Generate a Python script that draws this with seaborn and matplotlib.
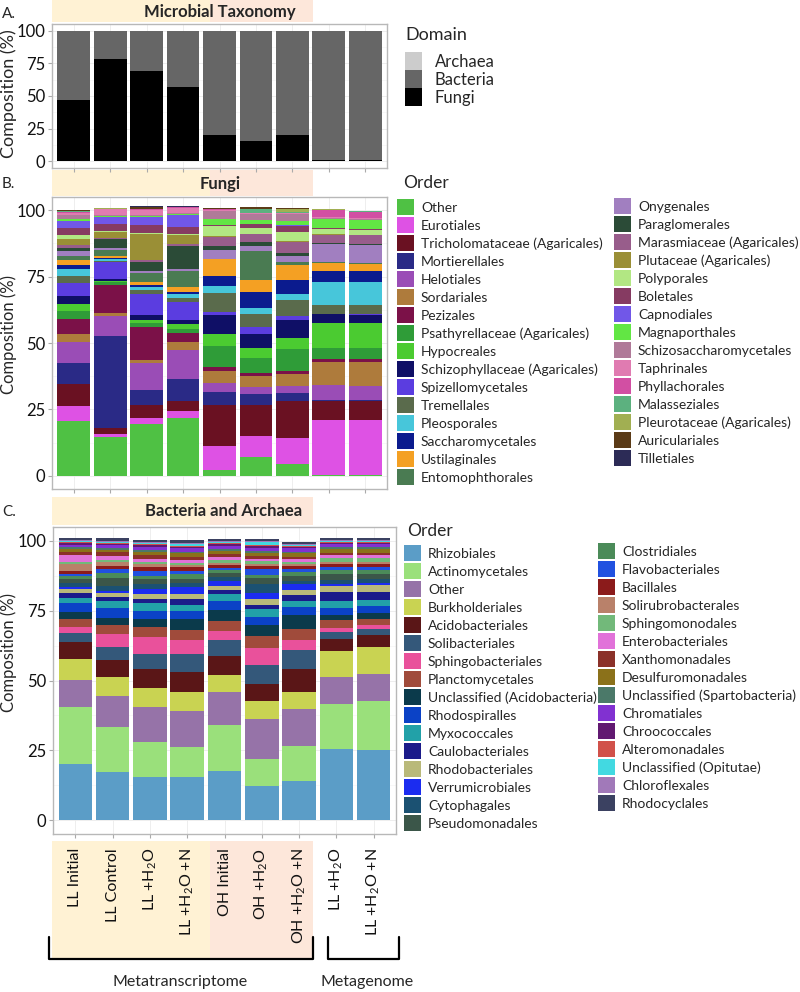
import pandas as pd
import matplotlib.pyplot as plt
import seaborn as sns
from matplotlib.patches import Patch, Rectangle

sns.set_theme(style='white')
plt.rcParams['font.family'] = ['Lato', 'DejaVu Sans']
plt.rcParams['mathtext.fontset'] = 'custom'
plt.rcParams['mathtext.rm'] = 'Lato'
plt.rcParams['mathtext.it'] = 'Lato:italic'
plt.rcParams['mathtext.bf'] = 'Lato:bold'

# sample labels (x axis of all three panels)
samples = ['LL Initial', 'LL Control', r'LL +H$_2$O', r'LL +H$_2$O +N',
           'OH Initial', r'OH +H$_2$O', r'OH +H$_2$O +N',
           r'LL +H$_2$O', r'LL +H$_2$O +N']

# ---- panel A: domain composition (%)
domains = ['Archaea', 'Bacteria', 'Fungi']
domain_colors = ['#CCCCCC', '#666666', '#000000']
archaea_pct = [0.1, 0.1, 0.1, 0.1, 0.2, 0.2, 0.2, 0.3, 0.3]
bacteria_pct = [52.9, 21.9, 30.9, 42.9, 79.8, 84.3, 79.3, 98.7, 98.7]
fungi_pct = [47.0, 78.0, 69.0, 57.0, 20.0, 15.5, 20.5, 1.0, 1.0]

# ---- panel B: fungal orders (bottom of stack first)
fungi_orders = ['Other', 'Eurotiales', 'Tricholomataceae (Agaricales)', 'Mortierellales',
                'Helotiales', 'Sordariales', 'Pezizales', 'Psathyrellaceae (Agaricales)',
                'Hypocreales', 'Schizophyllaceae (Agaricales)', 'Spizellomycetales',
                'Tremellales', 'Pleosporales', 'Saccharomycetales', 'Ustilaginales',
                'Entomophthorales', 'Onygenales', 'Paraglomerales',
                'Marasmiaceae (Agaricales)', 'Plutaceae (Agaricales)', 'Polyporales',
                'Boletales', 'Capnodiales', 'Magnaporthales', 'Schizosaccharomycetales',
                'Taphrinales', 'Phyllachorales', 'Malasseziales',
                'Pleurotaceae (Agaricales)', 'Auriculariales', 'Tilletiales']
fungi_colors = ['#4FC144', '#DE52E4', '#6A1122', '#2A2A86', '#9A4DB6', '#AE7B3C',
                '#7B1148', '#2F9C38', '#4BCB31', '#0F0F66', '#5B3DE0', '#5A6B4C',
                '#47C6DA', '#0B1B8E', '#F4A023', '#4A7B52', '#A17FC0', '#2B4B37',
                '#985D8B', '#9A8F36', '#B2E783', '#863B62', '#7157E8', '#62E644',
                '#B07A99', '#E07BB1', '#D24FA3', '#5CB17F', '#A1AF52', '#5B3B17',
                '#2C2B56']
fungi_ll_initial = [20.7, 5.7, 8.3, 7.7, 8.0, 3.1, 5.7, 2.9, 2.6, 2.9, 5.1, 2.4, 2.7, 1.4, 1.9, 1.7,
                    1.9, 1.0, 1.4, 2.2, 1.4, 2.8, 2.4, 0.9, 1.3, 1.0, 0.3, 0.2, 0.3, 0.2, 0.1]
fungi_ll_control = [14.6, 1.3, 2.2, 34.5, 7.4, 1.3, 10.5, 1.0, 0.5, 0.8, 6.5, 0.3, 0.9, 0.3, 0.6, 2.3,
                    0.6, 3.5, 0.5, 2.3, 0.3, 2.6, 2.8, 0.3, 0.5, 1.9, 0.2, 0.1, 0.2, 0.1, 0.1]
fungi_ll_h2o = [19.5, 2.2, 4.9, 5.6, 10.1, 1.4, 12.5, 1.3, 1.3, 1.7, 8.0, 1.3, 1.3, 0.9, 1.0, 3.2,
                0.9, 3.4, 0.8, 9.6, 0.5, 2.9, 3.2, 0.4, 0.4, 1.9, 0.1, 0.1, 0.1, 0.9, 0.1]
fungi_ll_h2o_n = [21.8, 2.6, 3.7, 8.4, 10.7, 3.3, 3.1, 1.7, 1.7, 1.5, 7.0, 1.3, 1.7, 0.9, 1.7, 6.0,
                  0.9, 8.4, 0.9, 3.2, 0.5, 2.7, 4.5, 0.4, 0.5, 1.9, 0.1, 0.1, 0.1, 0.1, 0.1]
fungi_oh_initial = [2.3, 8.9, 15.6, 4.7, 3.6, 4.5, 1.3, 8.0, 4.5, 7.0, 1.3, 7.0, 2.6, 4.1, 6.1, 0.3,
                    3.2, 1.5, 3.6, 0.3, 3.6, 0.3, 0.3, 2.0, 3.1, 0.5, 0.1, 0.1, 0.1, 0.4, 0.1]
fungi_oh_h2o = [7.2, 7.9, 11.5, 4.1, 2.9, 3.8, 1.3, 5.7, 3.6, 5.4, 2.6, 4.9, 2.2, 6.0, 4.5, 11.2,
                1.9, 1.3, 2.9, 0.3, 2.2, 1.3, 0.3, 1.3, 2.3, 0.3, 0.1, 1.3, 0.1, 0.9, 0.1]
fungi_oh_h2o_n = [4.6, 9.5, 14.0, 2.9, 2.8, 4.5, 1.3, 8.0, 4.1, 7.0, 1.3, 6.1, 2.2, 5.5, 5.7, 0.9,
                  2.3, 1.3, 4.2, 0.3, 3.4, 2.2, 0.3, 1.7, 2.6, 0.3, 0.1, 0.1, 1.4, 0.1, 0.1]
fungi_mg_h2o = [0.1, 21.0, 7.0, 0.3, 5.7, 8.6, 1.3, 4.1, 9.4, 3.4, 0.2, 3.4, 8.6, 4.2, 2.9, 0.2,
                7.0, 0.2, 3.2, 0.3, 1.9, 0.3, 0.2, 3.4, 0.3, 0.3, 2.6, 0.1, 0.1, 0.1, 0.1]
fungi_mg_h2o_n = [0.1, 21.0, 7.0, 0.3, 5.5, 8.8, 1.3, 4.0, 9.4, 3.3, 0.2, 3.3, 8.6, 4.3, 2.8, 0.2,
                  7.0, 0.2, 3.2, 0.3, 1.8, 0.3, 0.2, 3.3, 0.3, 0.3, 2.5, 0.1, 0.1, 0.1, 0.1]

# ---- panel C: bacterial / archaeal orders (bottom of stack first)
bact_orders = ['Rhizobiales', 'Actinomycetales', 'Other', 'Burkholderiales', 'Acidobacteriales',
               'Solibacteriales', 'Sphingobacteriales', 'Planctomycetales',
               'Unclassified (Acidobacteria)', 'Rhodospiralles', 'Myxococcales',
               'Caulobacteriales', 'Rhodobacteriales', 'Verrumicrobiales', 'Cytophagales',
               'Pseudomonadales', 'Clostridiales', 'Flavobacteriales', 'Bacillales',
               'Solirubrobacterales', 'Sphingomonodales', 'Enterobacteriales',
               'Xanthomonadales', 'Desulfuromonadales', 'Unclassified (Spartobacteria)',
               'Chromatiales', 'Chroococcales', 'Alteromonadales', 'Unclassified (Opitutae)',
               'Chloroflexales', 'Rhodocyclales']
bact_colors = ['#5B9DC7', '#9AE07B', '#9673A8', '#C9D352', '#5A1617', '#34587A', '#E9519B',
               '#A04B3B', '#0B3A4B', '#0B42C6', '#22A1A8', '#1B1B8A', '#B9B97A', '#1B2CF0',
               '#1B5172', '#3B5649', '#4B8B59', '#2151E0', '#8B1B1B', '#B9816A', '#72B97A',
               '#E172D9', '#8B3129', '#8B711A', '#4B7969', '#8131D1', '#611971', '#D1514A',
               '#42D9E1', '#A179B9', '#3B4161']
bact_ll_initial = [20.1, 20.3, 9.8, 7.5, 6.0, 3.2, 2.4, 2.7, 2.6, 3.1, 1.8, 1.7, 1.6, 0.8, 1.2, 1.6,
                   1.2, 0.6, 1.0, 2.4, 0.8, 2.4, 1.2, 1.2, 0.8, 0.7, 0.6, 0.3, 0.3, 0.5, 0.8]
bact_ll_control = [17.1, 16.1, 11.1, 6.8, 6.3, 4.7, 4.5, 3.3, 2.6, 3.3, 2.6, 1.4, 1.6, 0.5, 1.8, 3.0,
                   1.8, 1.4, 1.3, 1.1, 1.0, 1.4, 1.2, 1.0, 0.5, 1.0, 0.5, 0.4, 0.4, 0.4, 0.8]
bact_ll_h2o = [15.3, 12.5, 12.8, 6.7, 6.8, 5.4, 6.2, 3.3, 3.0, 3.0, 2.6, 1.6, 1.8, 1.8, 1.8, 1.8,
               1.2, 1.8, 1.2, 1.0, 0.8, 1.2, 1.2, 1.2, 0.6, 1.2, 0.6, 0.5, 0.3, 0.4, 0.8]
bact_ll_h2o_n = [15.3, 10.8, 12.8, 6.9, 7.4, 6.3, 5.0, 3.6, 3.8, 2.9, 2.4, 2.0, 1.8, 2.4, 1.4, 1.6,
                 1.6, 1.4, 1.2, 0.8, 0.8, 1.0, 1.2, 1.2, 0.5, 1.2, 0.5, 0.4, 0.8, 0.4, 0.8]
bact_oh_initial = [17.7, 16.5, 11.6, 6.2, 6.6, 6.0, 3.1, 3.6, 4.1, 3.1, 2.6, 1.4, 1.2, 1.9, 1.4, 1.4,
                   1.2, 0.6, 1.2, 0.8, 0.8, 1.2, 1.0, 1.2, 0.6, 1.2, 0.6, 0.4, 0.3, 0.4, 0.8]
bact_oh_h2o = [12.3, 9.6, 14.3, 6.3, 6.2, 6.9, 6.0, 4.4, 3.9, 2.9, 2.7, 1.6, 2.0, 2.4, 3.0, 2.4,
               0.8, 2.4, 1.0, 0.8, 0.8, 0.8, 1.0, 1.2, 0.6, 1.2, 0.8, 0.4, 1.0, 0.4, 0.6]
bact_oh_h2o_n = [14.1, 12.3, 13.4, 6.0, 8.4, 6.8, 3.6, 3.9, 4.8, 3.0, 2.2, 2.0, 2.0, 1.9, 1.4, 1.8,
                 1.2, 1.2, 1.0, 0.8, 0.8, 0.8, 1.0, 1.2, 0.5, 1.2, 0.6, 0.4, 0.3, 0.4, 0.8]
bact_mg_h2o = [25.3, 16.4, 9.6, 9.2, 4.5, 2.4, 1.4, 2.7, 1.8, 2.6, 2.7, 3.2, 2.2, 0.6, 1.4, 2.2,
               1.4, 1.0, 1.0, 0.8, 1.6, 0.8, 1.0, 1.2, 0.8, 1.0, 0.6, 0.4, 0.2, 0.3, 0.6]
bact_mg_h2o_n = [25.1, 17.7, 9.6, 9.6, 4.2, 2.4, 1.2, 2.4, 2.0, 2.4, 2.2, 3.0, 2.4, 0.6, 1.4, 2.0,
                 1.4, 1.0, 1.0, 0.8, 1.6, 0.8, 1.0, 1.2, 0.8, 1.0, 0.6, 0.4, 0.2, 0.3, 0.6]


def long_table(names, columns):
    rows = []
    for pos, col in enumerate(columns):
        for name, v in zip(names, col):
            rows.append((pos, name, v))
    return pd.DataFrame(rows, columns=['pos', 'taxon', 'pct'])


domain_df = long_table(domains, list(zip(archaea_pct, bacteria_pct, fungi_pct)))
fungi_df = long_table(fungi_orders, [fungi_ll_initial, fungi_ll_control, fungi_ll_h2o,
                                     fungi_ll_h2o_n, fungi_oh_initial, fungi_oh_h2o,
                                     fungi_oh_h2o_n, fungi_mg_h2o, fungi_mg_h2o_n])
bact_df = long_table(bact_orders, [bact_ll_initial, bact_ll_control, bact_ll_h2o,
                                   bact_ll_h2o_n, bact_oh_initial, bact_oh_h2o,
                                   bact_oh_h2o_n, bact_mg_h2o, bact_mg_h2o_n])

W, H = 800, 992
fig = plt.figure(figsize=(W / 100, H / 100), dpi=100)


def frac(x0, y0, x1, y1):
    return [x0 / W, 1 - y1 / H, (x1 - x0) / W, (y1 - y0) / H]


# background layer in pixel coords for the coloured bands, titles and brackets
bg = fig.add_axes([0, 0, 1, 1], zorder=-1)
bg.set_xlim(0, W)
bg.set_ylim(H, 0)
bg.axis('off')
beige, peach = '#FFF2D4', '#FDE7DA'
for y0, y1 in [(0, 22), (170, 196), (497, 525), (841, 958)]:
    bg.add_patch(Rectangle((52, y0), 158, y1 - y0, color=beige, lw=0))
    bg.add_patch(Rectangle((210, y0), 103, y1 - y0, color=peach, lw=0))


def stacked(ax, df, hue_order, palette):
    # histplot stacks the first hue level on top
    sns.histplot(data=df, x='pos', weights='pct', hue='taxon', hue_order=hue_order,
                 palette=palette, multiple='stack', discrete=True, shrink=0.9,
                 alpha=1, linewidth=0, legend=False, ax=ax)
    ax.set_xlim(-0.6, 8.6)
    ax.set_ylim(-5, 105)
    ax.set_yticks([0, 25, 50, 75, 100])
    ax.set_yticks([12.5, 37.5, 62.5, 87.5], minor=True)
    ax.set_xticks(range(9))
    ax.grid(True, which='major', color='#EBEBEB', lw=0.6)
    ax.grid(True, which='minor', axis='y', color='#F3F3F3', lw=0.4)
    ax.set_axisbelow(True)
    for s in ax.spines.values():
        s.set_color('#B8B8B8')
        s.set_linewidth(1.0)
    ax.tick_params(which='major', bottom=True, left=True, length=3, width=0.8,
                   color='#AAAAAA', labelsize=12, labelcolor='#111111', pad=2)
    ax.tick_params(which='minor', length=0)
    ax.set_xlabel('')
    ax.set_ylabel('')


axA = fig.add_axes(frac(52, 24, 387, 168))
stacked(axA, domain_df, domains, dict(zip(domains, domain_colors)))
axA.set_xticklabels([])

axB = fig.add_axes(frac(52, 197, 387, 489))
stacked(axB, fungi_df, fungi_orders[::-1], dict(zip(fungi_orders, fungi_colors)))
axB.set_xticklabels([])

axC = fig.add_axes(frac(53, 527, 396, 834))
stacked(axC, bact_df, bact_orders[::-1], dict(zip(bact_orders, bact_colors)))
axC.set_xticklabels(samples, rotation=90, ha='center', va='top', fontsize=11.5)
axC.tick_params(axis='x', pad=7)

# panel titles, letters, y labels
for x, y, txt in [(220, 12, 'Microbial Taxonomy'), (220, 184, 'Fungi'),
                  (224, 511, 'Bacteria and Archaea')]:
    bg.text(x, y, txt, ha='center', va='center', fontsize=12, fontweight='bold')
for y, txt in [(14, 'A.'), (184, 'B.'), (512, 'C.')]:
    bg.text(2, y, txt, ha='left', va='center', fontsize=11)
for y, fs in [(94, 13), (334, 12), (652, 12)]:
    bg.text(9, y, 'Composition (%)', rotation=90, ha='center', va='center', fontsize=fs)

# group brackets under the sample labels
bg.plot([49, 49, 313, 313], [937, 959, 959, 937], color='black', lw=1.6)
bg.plot([328, 328, 399, 399], [937, 959, 959, 937], color='black', lw=1.6)
bg.text(180, 982, 'Metatranscriptome', ha='center', va='center', fontsize=11.5)
bg.text(367, 982, 'Metagenome', ha='center', va='center', fontsize=11.5)


def add_legend(labels, colors, x, y, fs, hh, hl, pad, spacing):
    handles = [Patch(facecolor=c, edgecolor='none', label=l) for l, c in zip(labels, colors)]
    fig.legend(handles=handles, loc='upper left', bbox_to_anchor=(x / W, 1 - y / H),
               frameon=False, borderpad=0, borderaxespad=0, fontsize=fs,
               handleheight=hh, handlelength=hl, handletextpad=pad, labelspacing=spacing)


bg.text(405, 35, 'Domain', ha='left', va='center', fontsize=13)
add_legend(domains, domain_colors, 405, 52, 12, 1.285, 1.02, 0.78, 0.0)

bg.text(403, 183, 'Order', ha='left', va='center', fontsize=12.5)
add_legend(fungi_orders[:16], fungi_colors[:16], 397, 199, 10, 1.395, 1.22, 0.5, 0.144)
add_legend(fungi_orders[16:], fungi_colors[16:], 614, 198, 10, 1.395, 1.22, 0.5, 0.144)

bg.text(407, 531, 'Order', ha='left', va='center', fontsize=12.5)
add_legend(bact_orders[:16], bact_colors[:16], 404, 545, 10, 1.395, 1.22, 0.5, 0.144)
add_legend(bact_orders[16:], bact_colors[16:], 598, 543, 10, 1.395, 1.22, 0.5, 0.144)

fig.savefig('out.png', dpi=100)
